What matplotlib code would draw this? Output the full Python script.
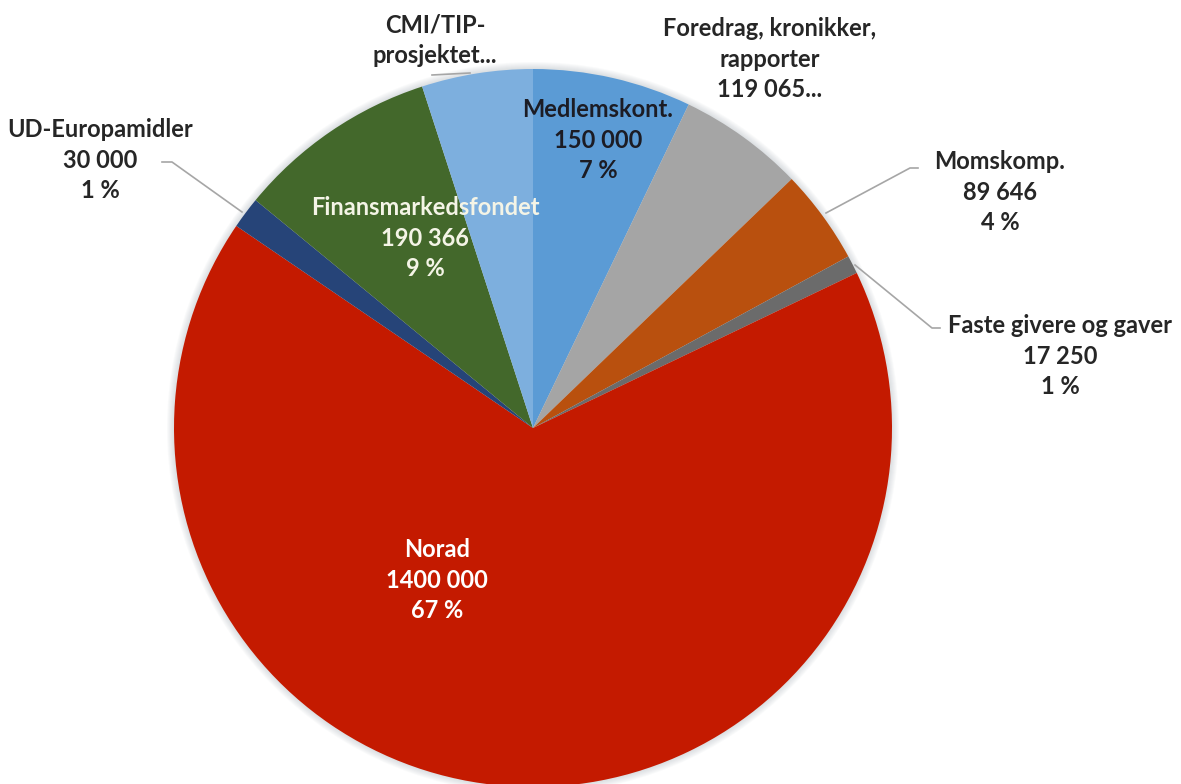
import matplotlib.pyplot as plt
from matplotlib.patches import Circle

plt.rcParams['font.family'] = ['Lato', 'DejaVu Sans']

# slices clockwise from 12 o'clock
names = ['Medlemskont.', 'Foredrag, kronikker,\nrapporter', 'Momskomp.', 'Faste givere og gaver',
         'Norad', 'UD-Europamidler', 'Finansmarkedsfondet', 'CMI/TIP-\nprosjektet...']
values = [150000, 119065, 89646, 17250, 1400000, 30000, 190366, 105000]
value_text = ['150 000', '119 065...', '89 646', '17 250', '1400 000', '30 000', '190 366', '']
colors = ['#5B9BD5', '#A5A5A5', '#B9500E', '#6B6B6B', '#C41A00', '#264478', '#43682B', '#7DAFDE']

cx, cy, r = 533, 784 - 428, 359

fig = plt.figure(figsize=(11.81, 7.84), dpi=100)
ax = fig.add_axes([0, 0, 1, 1])

# soft shadow round the pie
for i in range(7, 0, -1):
    ax.add_patch(Circle((cx, cy), r + i, color='#9aa3ad', alpha=0.05, lw=0, zorder=0))

ax.pie(values, colors=colors, startangle=90, counterclock=False, center=(cx, cy), radius=r,
       wedgeprops=dict(linewidth=0), frame=True)
ax.set_xlim(0, 1181)
ax.set_ylim(0, 784)
ax.set_aspect('equal')
ax.axis('off')

total = sum(values)
pct = [str(round(v / total * 100)) + ' %' for v in values]

def lab(text, x, y, color='#262626'):
    ax.text(x, 784 - y, text, ha='center', va='center', fontsize=17, fontweight='bold',
            color=color, linespacing=1.38)

# label text built from the data lists
lab(names[0] + '\n' + value_text[0] + '\n' + pct[0], 598, 140, '#1c1c24')
lab(names[1] + '\n' + value_text[1], 770, 59)
lab(names[2] + '\n' + value_text[2] + '\n' + pct[2], 1000, 192)
lab(names[3] + '\n' + value_text[3] + '\n' + pct[3], 1060, 356)
lab(names[4] + '\n' + value_text[4] + '\n' + pct[4], 437, 580, 'white')
lab(names[5] + '\n' + value_text[5] + '\n' + pct[5], 100, 160)
lab(names[6] + '\n' + value_text[6] + '\n' + pct[6], 425, 238, '#F4F4E6')
lab(names[7], 435, 40)

# leader lines
lc = '#A6A6A6'
ax.plot([826, 910, 918], [784 - 213, 784 - 168, 784 - 168], color=lc, lw=1.2, zorder=5)
ax.plot([855, 932, 940], [784 - 265, 784 - 328, 784 - 328], color=lc, lw=1.2, zorder=5)
ax.plot([162, 172, 242], [784 - 162, 784 - 162, 784 - 212], color=lc, lw=1.2, zorder=5)
ax.plot([432, 470], [784 - 75, 784 - 73], color=lc, lw=1.2, zorder=5)

plt.savefig('out.png', dpi=100)
